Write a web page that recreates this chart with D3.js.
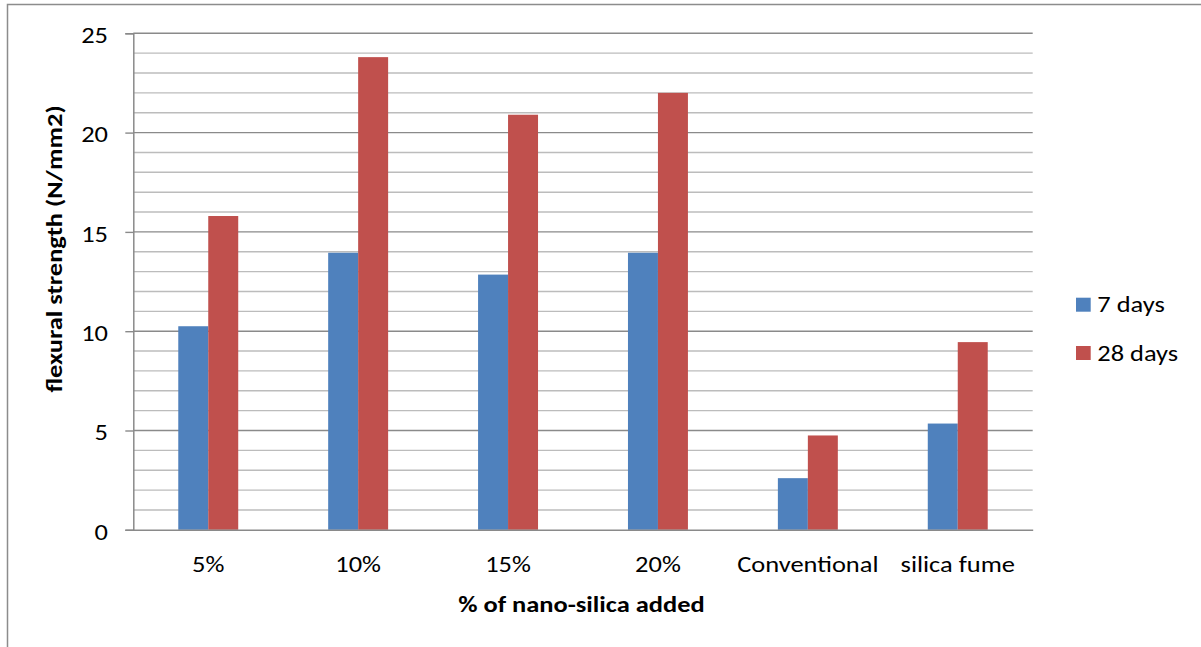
<!DOCTYPE html>
<html>
<head>
<meta charset="utf-8">
<script src="https://cdn.jsdelivr.net/npm/d3@7"></script>
<style>
  html, body { margin: 0; padding: 0; background: #fff; }
  svg { display: block; font-family: Carlito, Calibri, Lato, "Open Sans", sans-serif; }
</style>
</head>
<body>
<svg id="chart" width="1201" height="647"></svg>
<script>
// Flexural strength by nano-silica content
const categories = ["5%", "10%", "15%", "20%", "Conventional", "silica fume"];
const days7 = [10.25, 13.95, 12.85, 13.95, 2.6, 5.35];
const days28 = [15.8, 23.8, 20.9, 22.0, 4.75, 9.45];
const seriesNames = ["7 days", "28 days"];
const seriesColors = ["#4F81BD", "#C0504D"];
const yTicks = [0, 5, 10, 15, 20, 25];

const FONT = 23;      // label size
const SX = 1.15;      // horizontal text widening

const svg = d3.select("#chart");

// outer chart frame
svg.append("rect")
  .attr("x", 7.5).attr("y", 4.5)
  .attr("width", 1300).attr("height", 700)
  .attr("fill", "none").attr("stroke", "#8c8c8c").attr("stroke-width", 1.5);

const plot = { left: 133.3, right: 1032.7, top: 33.3, bottom: 529.8 };

const x = d3.scaleBand().domain(categories)
  .range([plot.left, plot.right]).paddingInner(0.6).paddingOuter(0.3);
const xs = d3.scaleBand().domain(seriesNames).range([0, x.bandwidth()]);
const y = d3.scaleLinear().domain([0, 25]).range([plot.bottom, plot.top]);

// gridlines: one per unit, darker on the labelled values
const grid = d3.range(1, 26);
svg.append("g").selectAll("line").data(grid).join("line")
  .attr("x1", plot.left).attr("x2", plot.right)
  .attr("y1", d => y(d)).attr("y2", d => y(d))
  .attr("stroke", d => d % 5 === 0 ? "#8a8a8a" : "#bcbcbc")
  .attr("stroke-width", 1.4);

// bars
const rows = categories.map((c, i) => ({ c, v: [days7[i], days28[i]] }));
const groups = svg.append("g").selectAll("g").data(rows).join("g")
  .attr("transform", d => `translate(${x(d.c)},0)`);
groups.selectAll("rect").data(d => d.v.map((v, k) => ({ v, k }))).join("rect")
  .attr("x", d => xs(seriesNames[d.k]))
  .attr("width", xs.bandwidth())
  .attr("y", d => y(d.v))
  .attr("height", d => y(0) - y(d.v))
  .attr("fill", d => seriesColors[d.k]);

// y axis
const yAxis = d3.axisLeft(y).tickValues(yTicks).tickSize(8);
const gy = svg.append("g").attr("transform", `translate(${plot.left},0)`).call(yAxis);
gy.select(".domain").attr("stroke", "#8a8a8a").attr("stroke-width", 1.5);
gy.selectAll(".tick line").attr("stroke", "#8a8a8a").attr("stroke-width", 1.4);
gy.selectAll(".tick text")
  .attr("x", -25.3 / SX).attr("dy", null).attr("y", 9.2)
  .attr("transform", `scale(${SX},1)`)
  .attr("font-size", FONT).attr("fill", "#000")
  .attr("font-family", "Carlito, Calibri, Lato, sans-serif");

// x axis
const xAxis = d3.axisBottom(x).tickSize(0);
const gx = svg.append("g").attr("transform", `translate(0,${plot.bottom})`).call(xAxis);
gx.select(".domain").attr("stroke", "#8a8a8a").attr("stroke-width", 1.5);
gx.selectAll(".tick text")
  .attr("y", 42).attr("dy", null)
  .attr("transform", `scale(${SX},1)`)
  .attr("font-size", FONT).attr("fill", "#000")
  .attr("font-family", "Carlito, Calibri, Lato, sans-serif");

// axis titles
svg.append("text")
  .attr("transform", `translate(581.5,611.7) scale(${SX},1)`)
  .attr("text-anchor", "middle").attr("font-size", FONT).attr("font-weight", "bold")
  .text("% of nano-silica added");
svg.append("text")
  .attr("transform", `translate(62,249) rotate(-90) scale(${SX},1)`)
  .attr("text-anchor", "middle").attr("font-size", FONT).attr("font-weight", "bold")
  .text("flexural strength (N/mm2)");

// legend
const legend = svg.append("g").selectAll("g").data(seriesNames).join("g")
  .attr("transform", (d, i) => `translate(1076,${297.7 + i * 48.3})`);
legend.append("rect").attr("width", 14.7).attr("height", 14)
  .attr("fill", (d, i) => seriesColors[i]);
legend.append("text")
  .attr("transform", `translate(21.3,14.6) scale(${SX},1)`)
  .attr("font-size", FONT)
  .text(d => d);
</script>
</body>
</html>
